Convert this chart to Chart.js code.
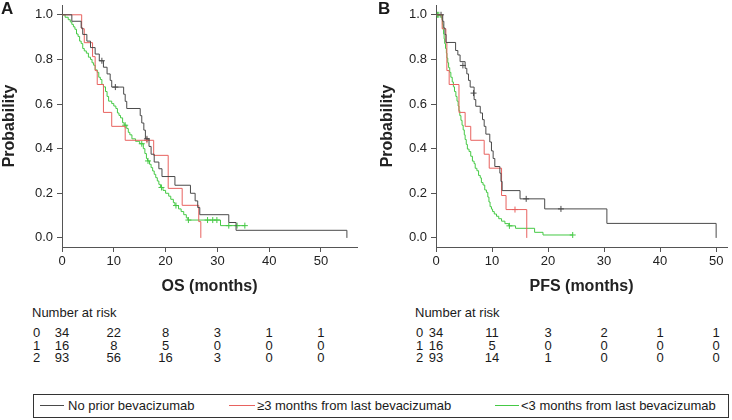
<!DOCTYPE html>
<html>
<head>
<meta charset="utf-8">
<title>OS and PFS by prior bevacizumab</title>
<script src="https://cdn.jsdelivr.net/npm/chart.js@4.4.1/dist/chart.umd.min.js"></script>
<style>
  html, body { margin: 0; padding: 0; background: #fff; }
  body { width: 732px; height: 420px; position: relative; overflow: hidden;
         font-family: "Liberation Sans", Arial, sans-serif; color: #1a1a1a; }
  canvas { position: absolute; top: 0; }
  #chartA { left: 0; }
  #chartB { left: 366px; }
  .letter { position: absolute; top: 0; font-size: 17px; font-weight: bold; line-height: 18px; }
  .txt { position: absolute; font-size: 13px; line-height: 15px; white-space: nowrap; }
  .num { transform: translateX(-50%); }
  #legend { position: absolute; left: 33px; top: 394px; width: 696px; height: 24px;
            border: 1px solid #333; box-sizing: border-box; }
  .swatch { position: absolute; height: 1px; top: 10px; }
</style>
</head>
<body>
<canvas id="chartA" width="366" height="300"></canvas>
<canvas id="chartB" width="366" height="300"></canvas>
<div class="letter" style="left:1px">A</div>
<div class="letter" style="left:378px">B</div>
<div id="legend"></div>
<script>
// --- DATA ---
const groupNames = ['No prior bevacizumab', '\u22653 months from last bevacizumab', '<3 months from last bevacizumab'];
const groupColors = ['#4a4a4a', '#e8625f', '#45c945'];
const timeTicks = [0, 10, 20, 30, 40, 50];
const probTicks = [0, 0.2, 0.4, 0.6, 0.8, 1.0];

// OS curves, [months, probability] after each drop
const osNoPrior = [[0,1],[1.9,0.971],[3.7,0.941],[4.0,0.912],[4.8,0.882],[5.5,0.853],[6.4,0.824],[7.2,0.794],
  [8.0,0.765],[8.7,0.735],[9.3,0.706],[9.6,0.676],[11.9,0.644],[12.2,0.612],[12.5,0.580],[15.1,0.548],
  [15.4,0.515],[15.8,0.483],[16.1,0.444],[16.8,0.41],[17.2,0.375],[17.8,0.34],[18.7,0.31],[19.3,0.275],
  [21.8,0.236],[24.8,0.20],[25.7,0.166],[26.2,0.136],[26.6,0.104],[32.2,0.069],[33.6,0.034],[55.0,0]];
const osLate = [[0,1],[3.8,0.9375],[4.3,0.875],[5.9,0.8125],[6.4,0.75],[6.8,0.6875],[8.0,0.5625],[9.6,0.5],
  [12.2,0.4375],[17.7,0.37],[20.5,0.222],[23.2,0.146],[26.4,0.073],[26.8,0]];
const osRecent = [[0,1],[0.6,0.989],[1.2,0.978],[1.6,0.968],[1.9,0.957],[2.2,0.946],[2.5,0.935],[2.8,0.914],
  [3.1,0.903],[3.4,0.882],[3.7,0.871],[4.0,0.849],[4.3,0.838],[4.7,0.828],[5.1,0.81],[5.5,0.80],[5.8,0.785],
  [6.1,0.774],[6.4,0.753],[6.8,0.742],[7.1,0.72],[7.4,0.71],[7.7,0.688],[8.0,0.677],[8.4,0.656],[8.7,0.634],
  [9.0,0.613],[9.6,0.602],[10.0,0.591],[10.4,0.58],[10.7,0.56],[11.0,0.549],[11.3,0.538],[11.7,0.516],
  [12.0,0.505],[12.5,0.49],[12.8,0.473],[13.1,0.462],[13.5,0.444],[14.2,0.433],[15.0,0.422],[15.7,0.40],
  [16.0,0.378],[16.3,0.356],[16.5,0.345],[16.9,0.33],[17.2,0.315],[17.5,0.30],[17.8,0.285],[18.1,0.27],
  [18.4,0.255],[18.7,0.24],[19.0,0.226],[19.5,0.213],[20.0,0.2],[20.6,0.187],[21.0,0.173],[21.5,0.158],
  [21.8,0.145],[22.5,0.13],[23.0,0.118],[23.5,0.104],[24.0,0.09],[24.3,0.08],[30.6,0.055],[35.3,0.055]];
const osNoPriorCens = [[7.7,0.794],[10.3,0.676],[16.4,0.444]];
const osLateCens = [[16.4,0.4375]];
const osRecentCens = [[12.2,0.505],[15.4,0.422],[16.6,0.345],[19.2,0.226],[22.0,0.145],[24.4,0.08],
  [28.1,0.08],[29.1,0.08],[29.9,0.08],[32.2,0.055],[33.8,0.055],[35.3,0.055]];

// PFS curves
const pfsNoPrior = [[0,1],[1.2,0.971],[1.4,0.941],[1.6,0.912],[1.8,0.876],[3.5,0.84],[3.9,0.82],[4.3,0.79],
  [5.2,0.76],[5.5,0.735],[5.8,0.706],[6.1,0.676],[6.8,0.62],[7.1,0.59],[7.9,0.56],[8.3,0.53],[8.6,0.50],
  [8.9,0.465],[9.6,0.43],[9.9,0.39],[10.2,0.356],[10.5,0.32],[11.4,0.29],[11.6,0.253],[11.8,0.212],
  [15.0,0.175],[19.4,0.13],[30.5,0.065],[50.0,0]];
const pfsLate = [[0,1],[1.1,0.9375],[1.76,0.875],[1.94,0.75],[2.35,0.6875],[4.1,0.5625],[5.2,0.5],
  [6.2,0.4375],[8.6,0.375],[9.5,0.3125],[11.7,0.19],[12.5,0.127],[16.2,0]];
const pfsRecent = [[0,1],[0.9,0.989],[1.05,0.978],[1.15,0.957],[1.25,0.935],[1.35,0.914],[1.45,0.892],
  [1.55,0.871],[1.7,0.849],[1.85,0.828],[1.95,0.806],[2.1,0.785],[2.25,0.763],[2.45,0.742],[2.65,0.72],
  [2.9,0.699],[3.1,0.677],[3.3,0.656],[3.55,0.634],[3.75,0.613],[3.95,0.591],[4.1,0.57],[4.25,0.548],
  [4.45,0.527],[4.65,0.505],[4.85,0.484],[5.05,0.462],[5.2,0.441],[5.4,0.419],[5.6,0.398],[5.9,0.387],
  [6.2,0.366],[6.5,0.344],[6.8,0.333],[7.0,0.312],[7.3,0.301],[7.6,0.28],[7.9,0.269],[8.1,0.248],
  [8.4,0.237],[8.7,0.215],[9.0,0.204],[9.25,0.183],[9.45,0.161],[9.65,0.14],[9.9,0.129],[10.1,0.118],
  [10.4,0.107],[10.8,0.097],[11.2,0.086],[11.7,0.075],[12.3,0.064],[13.0,0.054],[14.2,0.043],
  [17.6,0.025],[19.1,0.013],[24.4,0.013]];
const pfsNoPriorCens = [[0.9,1],[4.8,0.773],[6.7,0.649],[16.1,0.175],[22.3,0.13]];
const pfsLateCens = [[14.1,0.127]];
const pfsRecentCens = [[0.25,1],[0.5,1],[13.1,0.054],[24.4,0.013]];

// Number at risk (at 0,10,20,30,40,50 months)
const riskOS = [[34,22,8,3,1,1],[16,8,5,0,0,0],[93,56,16,3,0,0]];
const riskPFS = [[34,11,3,2,1,1],[16,5,0,0,0,0],[93,14,1,0,0,0]];

const FONT = '"Liberation Sans", Arial, sans-serif';
const AXIS = '#555';

function toXY(arr) {
    return arr.map(p => ({ x: p[0], y: p[1] }));
}

// --- KM PANEL ---
function makePanel(id, curves, censors, xMax, yWidth, padRight, xTitle, yTitlePad) {
    const datasets = [];
    curves.forEach((c, i) => {
        datasets.push({
            data: toXY(c), showLine: true, stepped: true,
            borderColor: groupColors[i], borderWidth: 1, pointRadius: 0, fill: false
        });
    });
    censors.forEach((c, i) => {
        datasets.push({
            data: toXY(c), showLine: false, pointStyle: 'cross', pointRadius: 3,
            borderColor: groupColors[i], pointBorderWidth: 1, backgroundColor: groupColors[i]
        });
    });

    return new Chart(document.getElementById(id), {
        type: 'scatter',
        data: { datasets },
        options: {
            responsive: false,
            animation: false,
            events: [],
            layout: { padding: { left: 0, top: 0, right: padRight, bottom: 0 } },
            plugins: { legend: { display: false }, tooltip: { enabled: false } },
            scales: {
                x: {
                    type: 'linear', min: 0, max: xMax,
                    afterBuildTicks: s => { s.ticks = timeTicks.map(v => ({ value: v })); },
                    afterFit: s => { s.height = 53; s.paddingLeft = 0; s.paddingRight = 0; },
                    grid: { drawOnChartArea: false, drawTicks: true, tickLength: 5, color: AXIS },
                    border: { display: true, color: AXIS },
                    ticks: { color: '#222', font: { size: 13, family: FONT }, padding: 2,
                             maxRotation: 0, autoSkip: false, callback: v => String(v) },
                    title: { display: true, text: xTitle, color: '#222',
                             font: { size: 16, weight: 'bold', family: FONT }, padding: { top: 0, bottom: 4 } }
                },
                y: {
                    type: 'linear', min: -0.0408, max: 1.0439,
                    afterBuildTicks: s => { s.ticks = probTicks.map(v => ({ value: v })); },
                    afterFit: s => { s.width = yWidth; s.paddingTop = 0; s.paddingBottom = 0; },
                    grid: { drawOnChartArea: false, drawTicks: true, tickLength: 5, color: AXIS },
                    border: { display: true, color: AXIS },
                    ticks: { color: '#222', font: { size: 13, family: FONT }, padding: 4,
                             autoSkip: false, callback: v => v.toFixed(1) },
                    title: { display: true, text: 'Probability', color: '#222',
                             font: { size: 16, weight: 'bold', family: FONT }, padding: { top: yTitlePad, bottom: 0 } }
                }
            }
        }
    });
}

// --- NUMBER AT RISK ---
function addText(text, left, top, centered) {
    const el = document.createElement('div');
    el.className = centered ? 'txt num' : 'txt';
    el.style.left = left + 'px';
    el.style.top = top + 'px';
    el.textContent = text;
    document.body.appendChild(el);
}

function riskTable(chart, canvasLeft, labelLeft, rows) {
    const xs = chart.scales.x;
    const rowTops = [325, 338, 350];
    addText('Number at risk', labelLeft, 305, false);
    rows.forEach((row, r) => {
        addText(String(r), labelLeft + 1, rowTops[r], false);
        row.forEach((n, k) => {
            addText(String(n), canvasLeft + xs.getPixelForValue(timeTicks[k]), rowTops[r], true);
        });
    });
}

// --- LEGEND ---
function buildLegend() {
    const box = document.getElementById('legend');
    const swatchPos = [[6, 24], [195, 26], [461, 24]];
    const textPos = [34, 223, 487];
    groupNames.forEach((name, i) => {
        const sw = document.createElement('div');
        sw.className = 'swatch';
        sw.style.left = swatchPos[i][0] + 'px';
        sw.style.width = swatchPos[i][1] + 'px';
        sw.style.background = groupColors[i];
        box.appendChild(sw);
        const t = document.createElement('div');
        t.className = 'txt';
        t.style.left = textPos[i] + 'px';
        t.style.top = '3px';
        t.textContent = name;
        box.appendChild(t);
    });
}

document.addEventListener('DOMContentLoaded', () => {
    const chartA = makePanel('chartA', [osNoPrior, osLate, osRecent],
        [osNoPriorCens, osLateCens, osRecentCens], 56.95, 62, 9, 'OS (months)', 0);
    const chartB = makePanel('chartB', [pfsNoPrior, pfsLate, pfsRecent],
        [pfsNoPriorCens, pfsLateCens, pfsRecentCens], 51.94, 70, 1, 'PFS (months)', 12);
    riskTable(chartA, 0, 32, riskOS);
    riskTable(chartB, 366, 415, riskPFS);
    buildLegend();
});
</script>
</body>
</html>
